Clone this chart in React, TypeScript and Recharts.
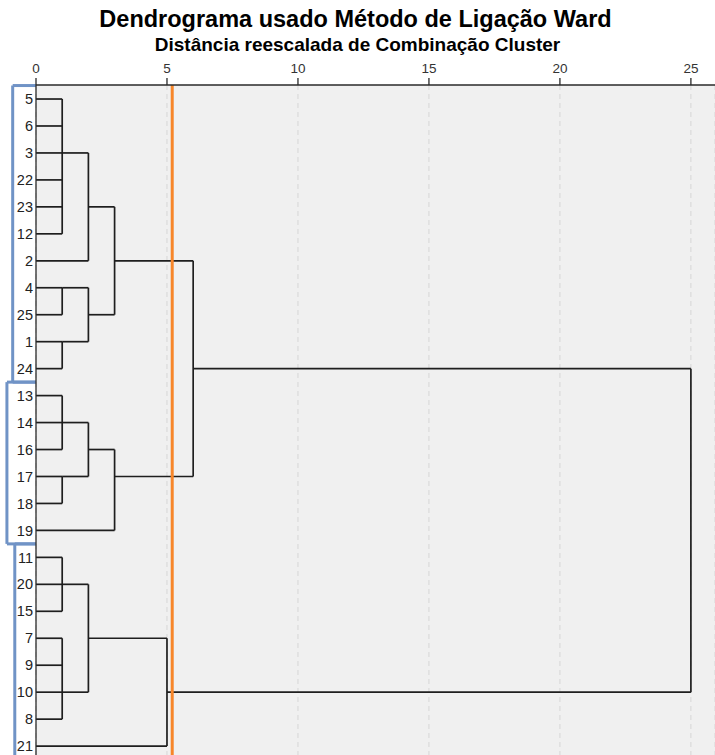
import { ComposedChart, XAxis, YAxis, CartesianGrid, ReferenceLine, Scatter } from 'recharts';

// leaf order top to bottom, as printed on the dendrogram
const leafLabels = ['5', '6', '3', '22', '23', '12', '2', '4', '25', '1', '24', '13', '14', '16', '17', '18', '19', '11', '20', '15', '7', '9', '10', '8', '21'];

// each merge: children (leaf labels or earlier merge ids), rescaled distance, row where its link leaves
const merges = [
  { id: 'a1', kids: ['5', '6', '3', '22', '23', '12'], dist: 1, exit: 2 },
  { id: 'a2', kids: ['a1', '2'], dist: 2, exit: 4 },
  { id: 'b1', kids: ['4', '25'], dist: 1, exit: 7 },
  { id: 'b2', kids: ['1', '24'], dist: 1, exit: 9 },
  { id: 'b', kids: ['b1', 'b2'], dist: 2, exit: 8 },
  { id: 'ab', kids: ['a2', 'b'], dist: 3, exit: 6 },
  { id: 'c1', kids: ['13', '14', '16'], dist: 1, exit: 12 },
  { id: 'c2', kids: ['17', '18'], dist: 1, exit: 14 },
  { id: 'c12', kids: ['c1', 'c2'], dist: 2, exit: 13 },
  { id: 'c', kids: ['c12', '19'], dist: 3, exit: 14 },
  { id: 'abc', kids: ['ab', 'c'], dist: 6, exit: 10 },
  { id: 'd1', kids: ['11', '20', '15'], dist: 1, exit: 18 },
  { id: 'd2', kids: ['7', '9', '10', '8'], dist: 1, exit: 22 },
  { id: 'd12', kids: ['d1', 'd2'], dist: 2, exit: 20 },
  { id: 'd', kids: ['d12', '21'], dist: 5, exit: 22 },
  { id: 'root', kids: ['abc', 'd'], dist: 25, exit: 16 },
];

const xTicks = [0, 5, 10, 15, 20, 25];
const cutDistance = 5.2;
// clusters marked by the blue brackets: first and last leaf row
const clusterFirst = [0, 11, 17];
const clusterLast = [10, 16, 24];

const LINE = '#1e1e1e';
const BLUE = '#7093c6';
const boxInset = [-0.89, -1.11, -0.81];

type Pt = { x: number; y: number };

function buildSegments() {
  const pos: Record<string, Pt> = {};
  leafLabels.forEach((l, i) => (pos[l] = { x: 0, y: i }));
  const segs: [Pt, Pt][] = [];
  merges.forEach((m) => {
    const kidPos = m.kids.map((k) => pos[k]);
    kidPos.forEach((p) => segs.push([{ x: p.x, y: p.y }, { x: m.dist, y: p.y }]));
    const ys = kidPos.map((p) => p.y);
    segs.push([{ x: m.dist, y: Math.min(...ys) }, { x: m.dist, y: Math.max(...ys) }]);
    pos[m.id] = { x: m.dist, y: m.exit };
  });
  return segs;
}

const segments = buildSegments();
const leafPoints = leafLabels.map((_, i) => ({ x: 0, y: i }));
const rowTicks = leafLabels.map((_, i) => i);

export default function App() {
  const font = '"Liberation Sans", Arial, sans-serif';
  return (
    <div style={{ position: 'absolute', left: 0, top: 0, width: 715, height: 755, background: '#fff', overflow: 'hidden', fontFamily: font }}>
      <div style={{ position: 'absolute', top: 8, left: -2, width: 715, textAlign: 'center', fontSize: 23.5, fontWeight: 'bold', lineHeight: 1, color: '#000' }}>
        Dendrograma usado Método de Ligação Ward
      </div>
      <div style={{ position: 'absolute', top: 35, left: 0, width: 715, textAlign: 'center', fontSize: 19, fontWeight: 'bold', lineHeight: 1, color: '#000' }}>
        Distância reescalada de Combinação Cluster
      </div>
      <ComposedChart width={715} height={755} margin={{ top: 55, right: 0, bottom: 0, left: 0 }} style={{ fontFamily: font }}>
        <CartesianGrid horizontal={false} fill="#f0f0f0" stroke="#d6d6d6" strokeDasharray="5 4" />
        <XAxis
          dataKey="x"
          type="number"
          orientation="top"
          domain={[0, 25.92]}
          allowDataOverflow
          ticks={xTicks}
          height={30}
          tickSize={7}
          tickMargin={5}
          stroke="#2a2a2a"
          strokeWidth={1.3}
          tick={{ fontSize: 13.5, fill: '#333' }}
        />
        <YAxis
          dataKey="y"
          type="number"
          domain={[-0.52, 24.33]}
          allowDataOverflow
          reversed
          ticks={rowTicks}
          interval={0}
          tickFormatter={(v: number) => leafLabels[v] ?? ''}
          width={36}
          tickLine={false}
          tickSize={0}
          tickMargin={3}
          stroke="#2a2a2a"
          strokeWidth={1.3}
          tick={{ fontSize: 14.5, fill: '#222' }}
        />
        <Scatter data={leafPoints} fill="none" isAnimationActive={false} />
        {clusterFirst.map((f, i) => {
          const top = f - 0.5;
          const bottom = clusterLast[i] + 0.5;
          return [
            <ReferenceLine key={`bl${i}`} segment={[{ x: boxInset[i], y: top }, { x: boxInset[i], y: bottom }]} stroke={BLUE} strokeWidth={3} ifOverflow="visible" />,
            <ReferenceLine key={`bt${i}`} segment={[{ x: boxInset[i], y: top }, { x: 0, y: top }]} stroke={BLUE} strokeWidth={3} ifOverflow="visible" />,
            <ReferenceLine key={`bb${i}`} segment={[{ x: boxInset[i], y: bottom }, { x: 0, y: bottom }]} stroke={BLUE} strokeWidth={3} ifOverflow="visible" />,
          ];
        })}
        {segments.map((s, i) => (
          <ReferenceLine key={`s${i}`} segment={s} stroke={LINE} strokeWidth={1.7} ifOverflow="visible" />
        ))}
        <ReferenceLine x={cutDistance} stroke="#f7862a" strokeWidth={3} />
      </ComposedChart>
    </div>
  );
}
